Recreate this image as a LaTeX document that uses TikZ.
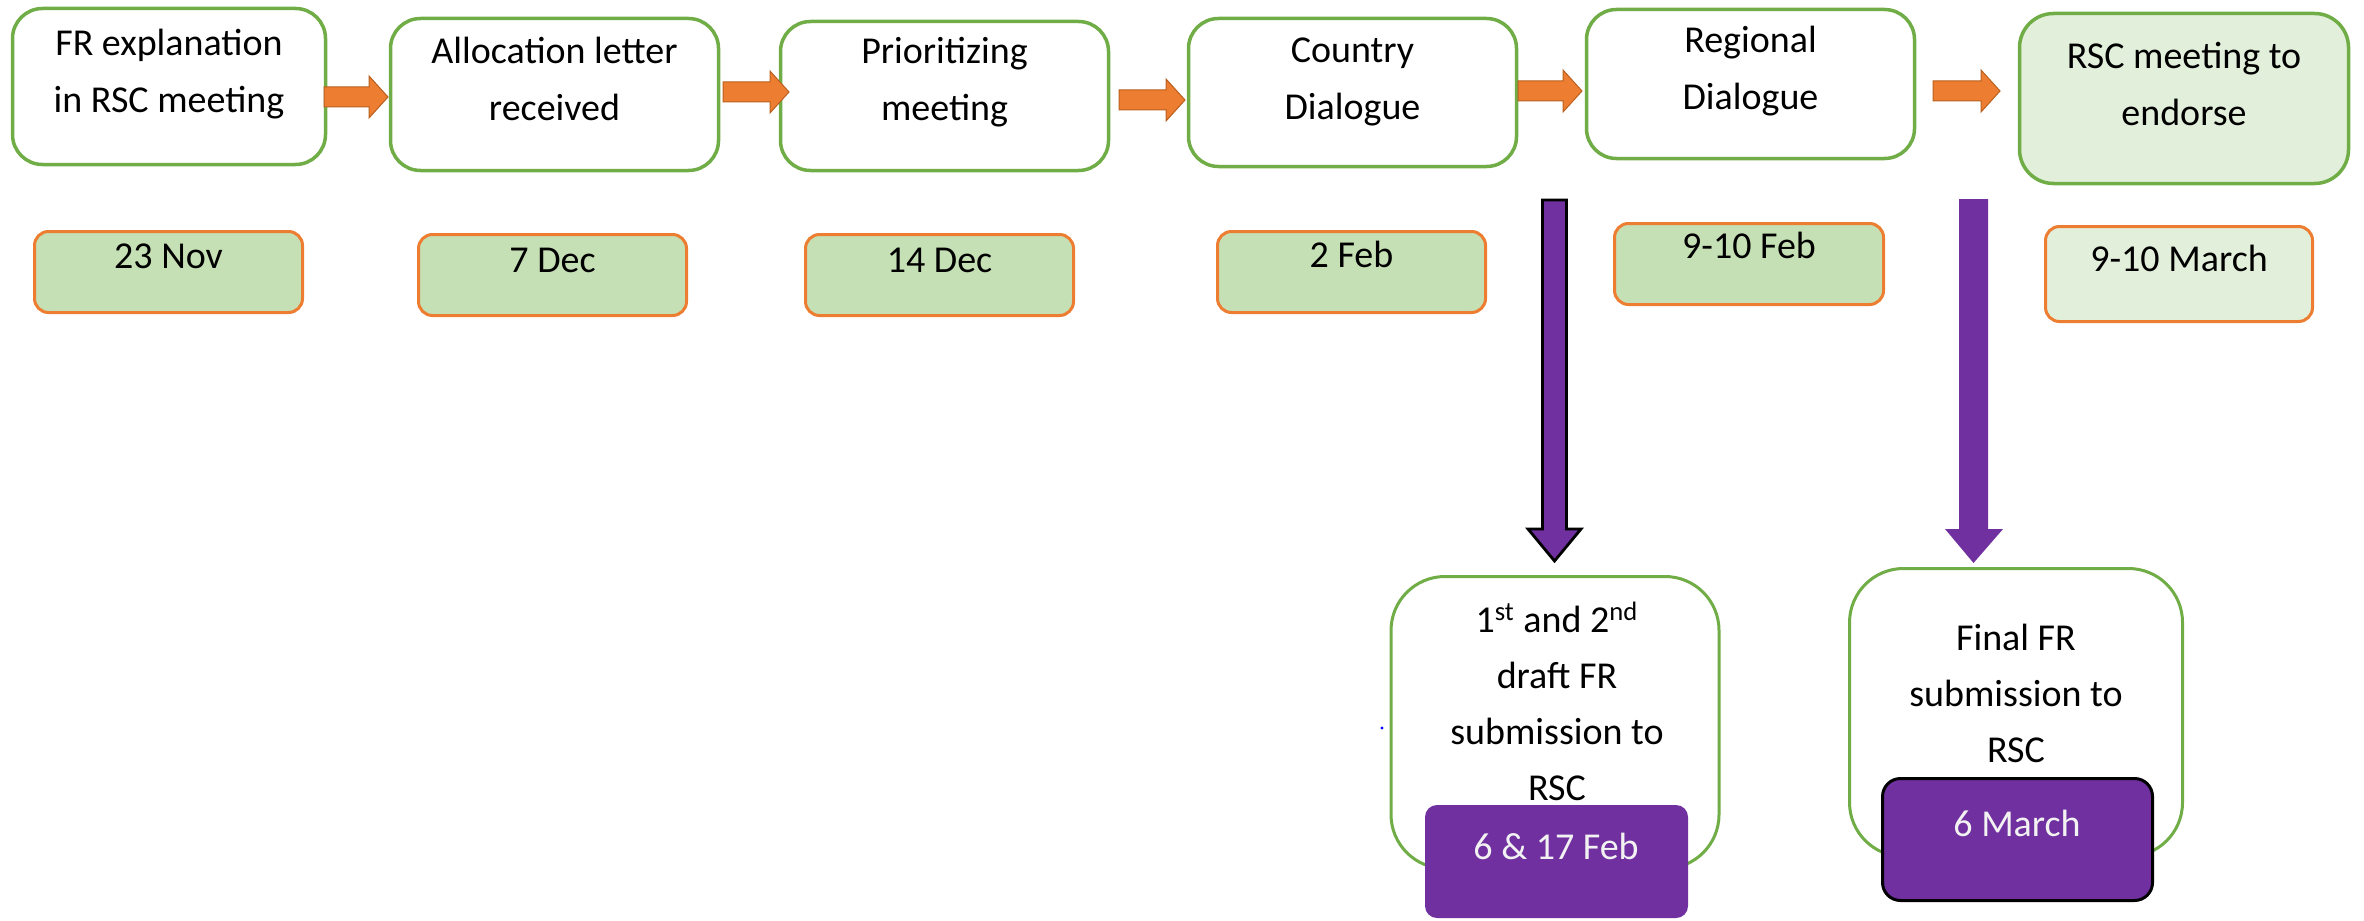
\documentclass[tikz,border=0pt]{standalone}
\usepackage{fontspec}
\setmainfont{Carlito}
\definecolor{grn}{HTML}{70AD47}
\definecolor{org}{HTML}{ED7D31}
\definecolor{orgdk}{HTML}{B9601F}
\definecolor{lgrn}{HTML}{C5E0B4}
\definecolor{llgrn}{HTML}{E2EFDA}
\definecolor{purp}{HTML}{7030A0}
\newcommand\oarrow[3]{%
  \filldraw[orarrow] (#1,#3-10) -- (#2-19,#3-10) -- (#2-19,#3-21) -- (#2,#3)
    -- (#2-19,#3+21) -- (#2-19,#3+10) -- (#1,#3+10) -- cycle;}
\begin{document}
\begin{tikzpicture}[x=0.5pt,y=-0.5pt,
  topbox/.style={draw=grn, line width=1.75pt, rounded corners=15pt, fill=white, inner sep=0pt},
  endbox/.style={topbox, fill=llgrn, rounded corners=17pt},
  datebox/.style={draw=org, line width=1.5pt, fill=lgrn, rounded corners=7pt, inner sep=0pt},
  lastdate/.style={datebox, fill=llgrn},
  subbox/.style={draw=grn, line width=1.5pt, rounded corners=27pt, fill=white, inner sep=0pt},
  pbox/.style={fill=purp, rounded corners=6pt, inner sep=0pt},
  pboxb/.style={pbox, draw=black, line width=1.5pt, rounded corners=9pt},
  txt/.style={anchor=north, inner sep=0pt, align=center, font=\fontsize{19}{28.5}\selectfont},
  txtb/.style={txt, font=\fontsize{19}{28}\selectfont},
  wtxt/.style={txt, text=white!95!black},
  orarrow/.style={fill=org, draw=orgdk, line width=0.5pt},
  parrow/.style={fill=purp},
  parrowb/.style={fill=purp, draw=black, line width=1.4pt}
]
\useasboundingbox (0,0) rectangle (2364,920);

% top process boxes
\node[topbox, minimum width=156.5pt, minimum height=78pt] (b1) at (169,86.5) {};
\node[topbox, minimum width=164pt, minimum height=76pt] (b2) at (554.5,94.5) {};
\node[topbox, minimum width=164pt, minimum height=74.5pt] (b3) at (944.5,96) {};
\node[topbox, minimum width=164pt, minimum height=74pt] (b4) at (1352.5,92.5) {};
\node[topbox, minimum width=164pt, minimum height=74.5pt] (b5) at (1750.5,84) {};
\node[endbox, minimum width=164.5pt, minimum height=85pt] (b6) at (2184,98.5) {};

\node[txt] (b1t) at (169,15) {\strut FR explanation\\in RSC meeting};
\node[txt] (b2t) at (554.5,23) {\strut Allocation letter\\received};
\node[txt] (b3t) at (944.5,23) {\strut Prioritizing\\meeting};
\node[txt] (b4t) at (1352.5,22) {\strut Country\\Dialogue};
\node[txt] (b5t) at (1750.5,12) {\strut Regional\\Dialogue};
\node[txt] (b6t) at (2184,28) {\strut RSC meeting to\\endorse};

% orange block arrows between the boxes
\oarrow{324}{388}{97}
\oarrow{723}{789}{92}
\oarrow{1119}{1185}{100}
\oarrow{1518}{1582}{91}
\oarrow{1933}{2000}{91}

% date boxes
\node[datebox, minimum width=134pt, minimum height=40.5pt] (d1) at (168.5,272) {};
\node[datebox, minimum width=134pt, minimum height=40.5pt] (d2) at (552.5,275) {};
\node[datebox, minimum width=134pt, minimum height=40.5pt] (d3) at (939.5,275) {};
\node[datebox, minimum width=134pt, minimum height=40.5pt] (d4) at (1351.5,272) {};
\node[datebox, minimum width=134.5pt, minimum height=40.5pt] (d5) at (1749,264) {};
\node[lastdate, minimum width=133.5pt, minimum height=47.5pt] (d6) at (2179,274) {};

\node[txt] (d1t) at (168.5,228) {\strut 23 Nov};
\node[txt] (d2t) at (552.5,232) {\strut 7 Dec};
\node[txt] (d3t) at (939.5,232) {\strut 14 Dec};
\node[txt] (d4t) at (1351.5,227) {\strut 2 Feb};
\node[txt] (d5t) at (1749,218) {\strut 9-10 Feb};
\node[txt] (d6t) at (2179,231) {\strut 9-10 March};

% purple down arrows
\coordinate (pa1) at (1554.5,200);
\coordinate (pa2) at (1973.5,199);
\filldraw[parrowb] (1542.5,200) -- (1566.5,200) -- (1566.5,529) -- (1581,529)
  -- (1554.5,561) -- (1528,529) -- (1542.5,529) -- cycle;
\fill[parrow] (1959,199) -- (1988,199) -- (1988,529) -- (2003,529)
  -- (1973.5,563) -- (1945,529) -- (1959,529) -- cycle;

% submission boxes
\node[subbox, minimum width=164pt, minimum height=146pt] (g1) at (1555,722.5) {};
\node[subbox, minimum width=166.5pt, minimum height=144pt] (g2) at (2016,712.5) {};

\node[txtb] (g1t) at (1557,593) {\strut 1\textsuperscript{st} and 2\textsuperscript{nd}\\draft FR\\submission to\\RSC};
\node[txtb] (g2t) at (2016,611) {\strut Final FR\\submission to\\RSC};

% purple deadline boxes
\node[pbox, minimum width=131.5pt, minimum height=56.5pt] (p1) at (1556.5,861.5) {};
\node[pboxb, minimum width=135pt, minimum height=61pt] (p2) at (2017.5,839.5) {};
\node[wtxt] (p1t) at (1556,819) {\strut 6 \& 17 Feb};
\node[wtxt] (p2t) at (2017,796) {\strut 6 March};

% stray blue dot
\fill[blue] (1382,728) circle (0.8pt);
\end{tikzpicture}
\end{document}
